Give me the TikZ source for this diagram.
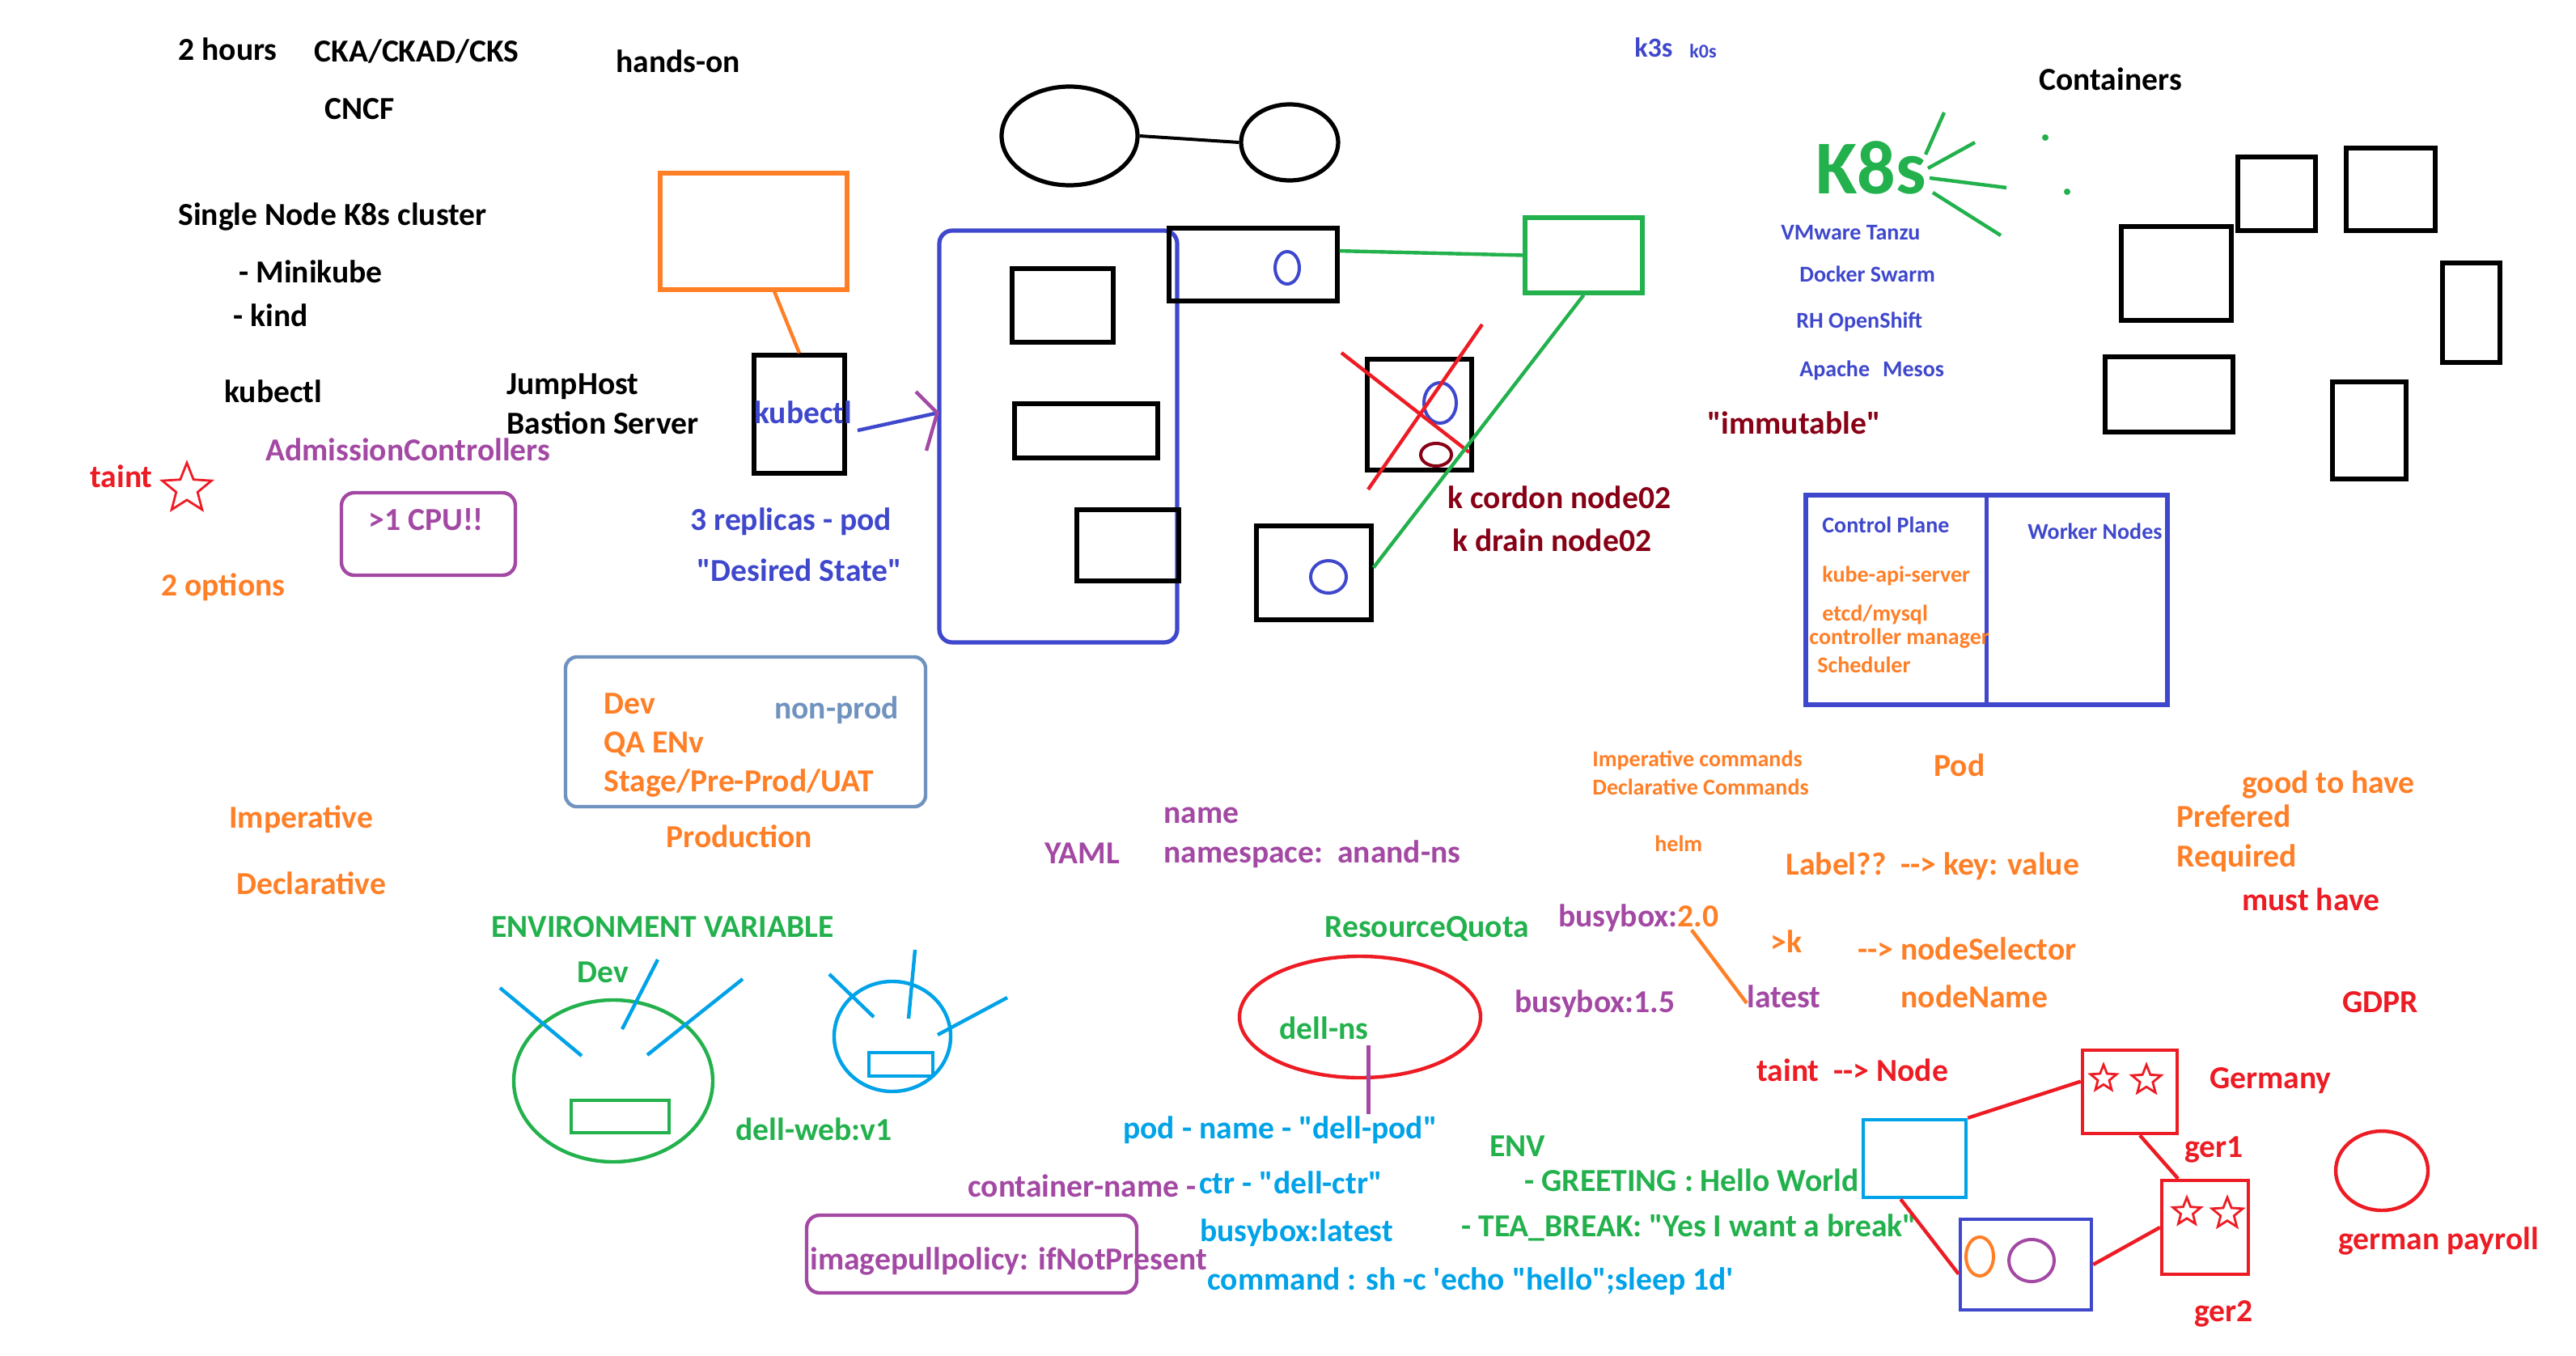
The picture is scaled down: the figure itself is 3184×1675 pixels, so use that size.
\documentclass[tikz,border=0pt]{standalone}
\usepackage{fontspec}
\setmainfont{Carlito}[Ligatures=TeXOff]
\usetikzlibrary{shapes.geometric}

\definecolor{pRed}{HTML}{ED1C24}
\definecolor{pOrange}{HTML}{FF7F27}
\definecolor{pGreen}{HTML}{22B14C}
\definecolor{pCyan}{HTML}{00A2E8}
\definecolor{pBlue}{HTML}{3F48CC}
\definecolor{pPurple}{HTML}{A349A4}
\definecolor{pDark}{HTML}{880015}
\definecolor{pSteel}{HTML}{7092BE}

\newcommand\txtM{\fontsize{19.8pt}{24pt}\selectfont\bfseries}
\newcommand\txtS{\fontsize{14pt}{17pt}\selectfont\bfseries}

\begin{document}
\begin{tikzpicture}[x=0.5pt, y=-0.5pt,
  lbl/.style={anchor=west, inner sep=0pt, text height=0.7em, text depth=0.2em, font=\txtM},
  lblsmall/.style={lbl, font=\txtS},
  shp/.style={draw, line width=2.6pt, inner sep=0pt},
  oval/.style={shp, ellipse},
  wire/.style={line width=2.2pt},
  starmark/.style={draw=pRed, star, star points=5, star point ratio=2.3, inner sep=0pt, line width=1.4pt}]

  \fill[white] (0,0) rectangle (3184,1675);
  \useasboundingbox (0,0) rectangle (3184,1675);

  % Course notes, top left
  \node[lbl] (hours) at (220,70) {2 hours};
  \node[lbl] (cert) at (388,72) {CKA/CKAD/CKS};
  \node[lbl] (hands) at (761,85) {hands-on};
  \node[lbl] (cncf) at (401,143) {CNCF};
  \node[lbl] (single) at (220,273) {Single Node K8s cluster};
  \node[lbl] (mini) at (295,344) {- Minikube};
  \node[lbl] (kind) at (288,398) {- kind};
  \node[lbl] (kctl) at (277,492) {kubectl};
  \node[lbl] (jump) at (626,482) {JumpHost};
  \node[lbl] (bastion) at (626,531) {Bastion Server};
  \node[lbl, pPurple] (admission) at (328,564) {AdmissionControllers};
  \node[lbl, pRed] (taintA) at (111,597) {taint};
  \node[starmark, minimum size=32pt] (taintStar) at (231,604) {};
  \node[shp, draw=pPurple, line width=2.2pt, rounded corners=8pt, minimum width=107.5pt, minimum height=51pt] (cpuBox) at (529.5,660) {};
  \node[lbl, pPurple] (cpu) at (455,650) {>1 CPU!!};
  \node[lbl, pOrange] (options) at (199,731) {2 options};

  % Environments
  \node[shp, draw=pSteel, line width=2.2pt, rounded corners=7pt, minimum width=222.5pt, minimum height=92.5pt] (envBox) at (921.5,904.5) {};
  \node[lbl, pOrange] (dev) at (746,877) {Dev};
  \node[lbl, pOrange] (qa) at (746,925) {QA ENv};
  \node[lbl, pOrange] (stage) at (746,973) {Stage/Pre-Prod/UAT};
  \node[lbl, pSteel] (nonprod) at (957,883) {non-prod};
  \node[lbl, pOrange] (prod) at (823,1042) {Production};
  \node[lbl, pOrange] (imper) at (283,1018) {Imperative};
  \node[lbl, pOrange] (decl) at (292,1100) {Declarative};

  % Jump host and cluster
  \node[shp, draw=pOrange, minimum width=115.5pt, minimum height=72pt] (orng) at (931.5,286) {};
  \node[shp, minimum width=56pt, minimum height=73pt] (jumpBox) at (988,512) {};
  \node[lbl, pBlue] (kctlIn) at (932,518) {kubectl};
  \draw[wire, pOrange] (orng.-71) -- (jumpBox.north);
  \node[shp, draw=pBlue, rounded corners=8pt, minimum width=147pt, minimum height=254.5pt] (cluster) at (1308,539.5) {};
  \node[shp, minimum width=62.5pt, minimum height=45.5pt] (podA) at (1313.5,377.5) {};
  \node[shp, minimum width=88.5pt, minimum height=33.5pt] (podB) at (1342.5,532.5) {};
  \node[shp, minimum width=63pt, minimum height=44pt] (podC) at (1394,674) {};
  \coordinate (kTail) at (1060,532);
  \draw[wire, pBlue] (kTail) -- (cluster.169);
  \draw[wire, pPurple] (1132,484) -- (cluster.169) -- (1145,557);
  \node[lbl, pBlue] (replicas) at (853,650) {3 replicas - pod};
  \node[lbl, pBlue] (desired) at (861,713) {"Desired State"};

  % Two nodes at the top
  \node[oval, minimum width=84pt, minimum height=61pt] (ellA) at (1322,168) {};
  \node[oval, minimum width=60pt, minimum height=47pt] (ellB) at (1594,176) {};
  \draw[line width=2pt] (ellA.east) -- (ellB.west);

  % Worker nodes, cordon and drain
  \node[shp, minimum width=104pt, minimum height=45pt] (topNd) at (1549,327) {};
  \node[oval, draw=pBlue, line width=2pt, minimum width=15pt, minimum height=20pt] (topPod) at (1591,331) {};
  \node[shp, draw=pGreen, minimum width=72.5pt, minimum height=46.5pt] (grnNd) at (1957.5,315.5) {};
  \draw[wire, pGreen] (topNd.9) -- (grnNd.west);
  \node[shp, minimum width=64.5pt, minimum height=68.5pt] (deadNd) at (1754.5,512.5) {};
  \node[oval, draw=pBlue, line width=2pt, minimum width=20pt, minimum height=25pt] (deadPodA) at (1780,498) {};
  \node[oval, draw=pDark, line width=2pt, minimum width=19pt, minimum height=14pt] (deadPodB) at (1775,562) {};
  \draw[wire, pRed] (1658,436) -- (1816,559);
  \draw[wire, pRed] (1832,401) -- (1691,605);
  \node[shp, minimum width=71pt, minimum height=58pt] (botNd) at (1624,708) {};
  \node[oval, draw=pBlue, line width=2pt, minimum width=22pt, minimum height=20pt] (botPod) at (1642,713) {};
  \draw[wire, pGreen] (grnNd.south) -- (botNd.5);
  \node[lbl, pDark] (cordon) at (1789,623) {k cordon node02};
  \node[lbl, pDark] (drain) at (1795,676) {k drain node02};

  % Distributions
  \node[lbl, pBlue, font=\fontsize{17pt}{20pt}\selectfont\bfseries] (k3s) at (2020,66) {k3s};
  \node[lbl, pBlue, font=\fontsize{12pt}{14pt}\selectfont\bfseries] (k0s) at (2088,67) {k0s};
  \node[lbl, pGreen, font=\fontsize{47pt}{56pt}\selectfont\bfseries] (k8s) at (2244,234) {K8s};
  \draw[wire, pGreen] (2403,139) -- (2380,191);
  \draw[wire, pGreen] (2441,176) -- (2383,208);
  \draw[wire, pGreen] (2385,220) -- (2480,232);
  \draw[wire, pGreen] (2389,238) -- (2473,291);
  \fill[pGreen] (2528,170) circle (2pt);
  \fill[pGreen] (2555,237) circle (2pt);
  \node[lblsmall, pBlue] (tanzu) at (2201,291) {VMware Tanzu};
  \node[lblsmall, pBlue] (swarm) at (2224,343) {Docker Swarm};
  \node[lblsmall, pBlue] (openshift) at (2220,400) {RH OpenShift};
  \node[lblsmall, pBlue] (mesos) at (2224,460) {Apache\hspace{0.57em}Mesos};
  \node[lbl, pDark] (immut) at (2110,531) {"immutable"};

  % Containers
  \node[lbl] (containers) at (2520,107) {Containers};
  \node[shp, minimum width=48pt, minimum height=45.5pt] (ctrA) at (2814,239.5) {};
  \node[shp, minimum width=55pt, minimum height=51pt] (ctrB) at (2955,234) {};
  \node[shp, minimum width=68pt, minimum height=58pt] (ctrC) at (2690,338) {};
  \node[shp, minimum width=35.5pt, minimum height=61.5pt] (ctrD) at (3054.5,386.5) {};
  \node[shp, minimum width=79pt, minimum height=46.5pt] (ctrE) at (2681,487.5) {};
  \node[shp, minimum width=45.5pt, minimum height=60pt] (ctrF) at (2928.5,532) {};

  % Control plane and workers
  \node[shp, draw=pBlue, minimum width=223.5pt, minimum height=129.5pt] (cpBox) at (2455.5,741.5) {};
  \draw[line width=2.6pt, pBlue] (cpBox.north) -- (cpBox.south);
  \node[lblsmall, pBlue] (cpTitle) at (2252,653) {Control Plane};
  \node[lblsmall, pBlue] (wkTitle) at (2506,661) {Worker Nodes};
  \node[lblsmall, pOrange] (api) at (2252,714) {kube-api-server};
  \node[lblsmall, pOrange] (etcd) at (2252,762) {etcd/mysql};
  \node[lblsmall, pOrange] (ctrlmgr) at (2236,791) {controller manager};
  \node[lblsmall, pOrange] (sched) at (2246,826) {Scheduler};

  % Environment variable pods
  \node[lbl, pGreen] (envvar) at (607,1153) {ENVIRONMENT VARIABLE};
  \node[lbl, pGreen] (envDev) at (713,1209) {Dev};
  \node[oval, draw=pGreen, line width=2.2pt, minimum width=123pt, minimum height=100pt] (envPod) at (758,1336) {};
  \node[shp, draw=pGreen, line width=2.2pt, minimum width=60.5pt, minimum height=20pt] (envCtr) at (766.5,1380) {};
  \draw[wire, pCyan] (618,1221) -- (719,1305);
  \draw[wire, pCyan] (813,1186) -- (769,1272);
  \draw[wire, pCyan] (918,1210) -- (800,1304);
  \node[lbl, pGreen] (dellweb) at (909,1404) {dell-web:v1};
  \node[oval, draw=pCyan, line width=2.2pt, minimum width=72pt, minimum height=68pt] (webPod) at (1103,1281) {};
  \node[shp, draw=pCyan, line width=2.2pt, minimum width=39.5pt, minimum height=14.5pt] (webCtr) at (1113.5,1315.5) {};
  \draw[wire, pCyan] (1025,1204) -- (1080,1257);
  \draw[wire, pCyan] (1131,1174) -- (1123,1259);
  \draw[wire, pCyan] (1245,1233) -- (1159,1279);

  % Namespace and pod spec
  \node[lbl, pPurple] (yaml) at (1291,1062) {YAML};
  \node[lbl, pPurple] (name) at (1438,1012) {name};
  \node[lbl, pPurple] (nsline) at (1438,1061) {namespace:\ \ anand-ns};
  \node[lbl, pGreen] (quota) at (1637,1153) {ResourceQuota};
  \node[oval, draw=pRed, line width=2.2pt, minimum width=149pt, minimum height=75pt] (nsEll) at (1681,1257) {};
  \node[lbl, pGreen] (dellns) at (1581,1279) {dell-ns};
  \node[lbl, pCyan] (podname) at (1388,1402) {pod - name - "dell-pod"};
  \draw[wire, pPurple, shorten <=2pt, shorten >=8pt] (dellns.south east) -- (dellns.south east |- podname.north);
  \node[lbl, pPurple] (ctrname) at (1196,1474) {container-name -};
  \node[lbl, pCyan] (ctr) at (1482,1470) {ctr - "dell-ctr"};
  \node[lbl, pCyan] (image) at (1483,1529) {busybox:latest};
  \node[lbl, pCyan] (cmd) at (1492,1589) {command : sh -c 'echo "hello";sleep 1d'};
  \node[shp, draw=pPurple, line width=2.2pt, rounded corners=8pt, minimum width=204pt, minimum height=48pt] (pullBox) at (1201,1550) {};
  \node[lbl, pPurple] (pull) at (1001,1564) {imagepullpolicy: ifNotPresent};
  \node[lbl, pGreen] (env) at (1841,1424) {ENV};
  \node[lbl, pGreen] (greet) at (1884,1467) {- GREETING : Hello World};
  \node[lbl, pGreen] (tea) at (1806,1523) {- TEA\_BREAK: "Yes I want a break"};

  % Image tags
  \node[lbl, pPurple] (bb20) at (1926,1140) {busybox:\textcolor{pOrange}{2.0}};
  \node[lbl, pPurple] (bb15) at (1872,1246) {busybox:1.5};
  \node[lbl, pPurple] (latest) at (2159,1240) {latest};
  \draw[wire, pOrange] ([xshift=-17pt]bb20.south east) -- (latest.west);
  \node[lbl, pOrange] (gtk) at (2188,1172) {>k};

  % Commands, labels and scheduling
  \node[lblsmall, pOrange] (impcmd) at (1968,942) {Imperative commands};
  \node[lblsmall, pOrange] (deccmd) at (1968,977) {Declarative Commands};
  \node[lblsmall, pOrange] (helm) at (2045,1047) {helm};
  \node[lbl, pOrange] (pod) at (2390,954) {Pod};
  \node[lbl, pOrange] (label) at (2207,1076) {Label??\ \ --> key: value};
  \node[lbl, pOrange] (nodesel) at (2296,1181) {--> nodeSelector};
  \node[lbl, pOrange] (nodename) at (2349,1240) {nodeName};
  \node[lbl, pRed] (taintB) at (2171,1331) {taint\ \ --> Node};
  \node[lbl, pOrange] (good) at (2771,975) {good to have};
  \node[lbl, pOrange] (pref) at (2690,1017) {Prefered};
  \node[lbl, pOrange] (req) at (2690,1066) {Required};
  \node[lbl, pRed] (must) at (2771,1120) {must have};
  \node[lbl, pRed] (gdpr) at (2895,1246) {GDPR};

  % Germany nodes
  \node[shp, draw=pCyan, line width=2.2pt, minimum width=63.5pt, minimum height=48pt] (cyanSq) at (2366.5,1432) {};
  \node[shp, draw=pRed, line width=2.2pt, minimum width=58.5pt, minimum height=51.5pt] (ger1) at (2632.5,1349.5) {};
  \node[starmark, minimum size=17pt] (ger1StarA) at (2600,1333) {};
  \node[starmark, minimum size=19pt] (ger1StarB) at (2653,1335) {};
  \node[shp, draw=pRed, line width=2.2pt, minimum width=53.5pt, minimum height=58pt] (ger2) at (2725.5,1517) {};
  \node[starmark, minimum size=18pt] (ger2StarA) at (2703,1498) {};
  \node[starmark, minimum size=20pt] (ger2StarB) at (2753,1500) {};
  \node[shp, draw=pBlue, line width=2.2pt, minimum width=81pt, minimum height=56pt] (blueSq) at (2504,1563) {};
  \node[oval, draw=pOrange, line width=2pt, minimum width=17pt, minimum height=24pt] (blueCtrA) at (2447,1553) {};
  \node[oval, draw=pPurple, line width=2pt, minimum width=28pt, minimum height=26pt] (blueCtrB) at (2511,1558) {};
  \draw[wire, pRed] (cyanSq.north east) -- (ger1.168);
  \draw[wire, pRed] (ger1.-77) -- (ger2.119);
  \draw[wire, pRed] (ger2.west) -- (blueSq.east);
  \draw[wire, pRed] (cyanSq.-109) -- (blueSq.-172);
  \node[lbl, pRed] (germany) at (2731,1340) {Germany};
  \node[lbl, pRed] (ger1L) at (2700,1425) {ger1};
  \node[lbl, pRed] (ger2L) at (2712,1628) {ger2};
  \node[oval, draw=pRed, line width=2.2pt, minimum width=57pt, minimum height=49pt] (payroll) at (2944,1447) {};
  \node[lbl, pRed] (payrollL) at (2890,1539) {german payroll};
\end{tikzpicture}
\end{document}
